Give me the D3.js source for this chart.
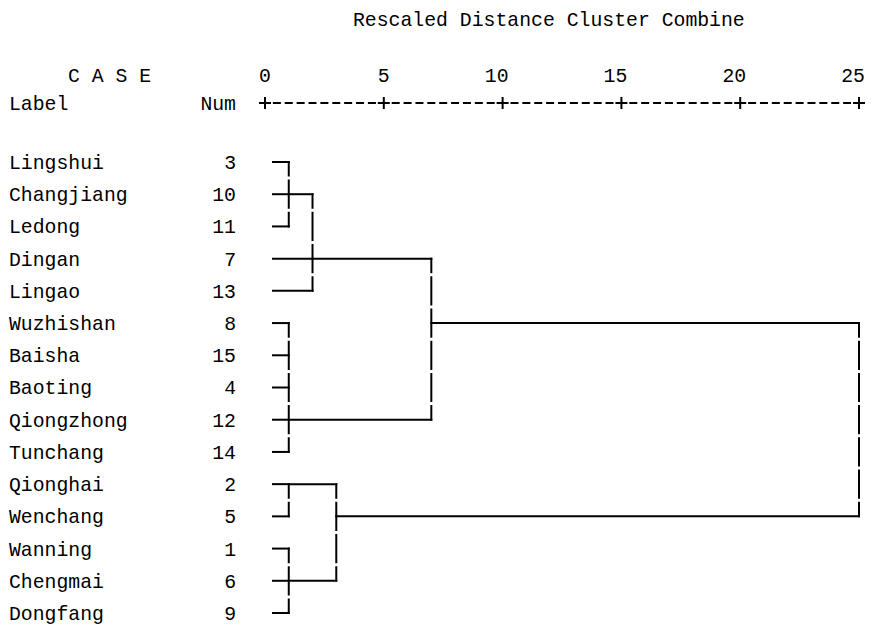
<!DOCTYPE html>
<html>
<head>
<meta charset="utf-8">
<script src="https://cdn.jsdelivr.net/npm/d3@7"></script>
<style>
  body { margin: 0; background: #fff; }
  text { font-family: "Liberation Mono", "DejaVu Sans Mono", monospace; font-size: 19.8px; fill: #000; }
</style>
</head>
<body>
<script>
var width = 872;
var height = 627;

// cases, top to bottom as in the dendrogram
var caseLabels = ["Lingshui", "Changjiang", "Ledong", "Dingan", "Lingao",
  "Wuzhishan", "Baisha", "Baoting", "Qiongzhong", "Tunchang",
  "Qionghai", "Wenchang", "Wanning", "Chengmai", "Dongfang"];
var caseNums = [3, 10, 11, 7, 13, 8, 15, 4, 12, 14, 2, 5, 1, 6, 9];

var ticks = [0, 5, 10, 15, 20, 25];

// merges: leaves are 0..14, merge k gets id 15 + k
var mergeChildren = [[0, 1, 2], [15, 3, 4], [5, 6, 7, 8, 9], [16, 17],
  [10, 11], [12, 13, 14], [19, 20], [18, 21]];
var mergeHeights = [1, 2, 1, 7, 1, 1, 3, 25];
var mergeRows = [1, 3, 8, 5, 10, 13, 11, 5];

var svg = d3.select("body")
  .append("svg")
  .attr("width", width)
  .attr("height", height)
  .style("background-color", "#fff");

var x = d3.scaleLinear().domain([0, 25]).range([265, 859]);
var y = d3.scalePoint().domain(d3.range(caseLabels.length)).range([162, 613]);
var step = y.step();
var cell = (x(5) - x(0)) / 10;
var leafX = x(0) + 7;

// texts
svg.append("text")
  .attr("x", 353).attr("y", 19).attr("dy", "0.35em")
  .text("Rescaled Distance Cluster Combine");

svg.append("text")
  .attr("x", 68).attr("y", 75).attr("dy", "0.35em")
  .attr("xml:space", "preserve")
  .text("C A S E");

svg.append("text")
  .attr("x", 9).attr("y", 103).attr("dy", "0.35em")
  .text("Label");
svg.append("text")
  .attr("x", 236).attr("y", 103).attr("dy", "0.35em")
  .attr("text-anchor", "end")
  .text("Num");

svg.append("g").selectAll("text")
  .data(ticks)
  .enter().append("text")
    .attr("x", function(d) { return x(d) + cell / 2; })
    .attr("y", 75).attr("dy", "0.35em")
    .attr("text-anchor", "end")
    .text(function(d) { return d; });

// axis: dashes between plus signs
var axis = svg.append("g").attr("stroke", "#000").attr("stroke-width", 2);
axis.append("line")
  .attr("x1", x(0) + cell / 2).attr("x2", x(25) - cell / 2)
  .attr("y1", 103).attr("y2", 103)
  .attr("stroke-dasharray", "0," + ((cell - 8) / 2) + ",8," + ((cell - 8) / 2));
axis.selectAll(".ph")
  .data(ticks)
  .enter().append("line")
    .attr("x1", function(d) { return x(d) - 6; })
    .attr("x2", function(d) { return x(d) + 6; })
    .attr("y1", 103).attr("y2", 103);
axis.selectAll(".pv")
  .data(ticks)
  .enter().append("line")
    .attr("x1", function(d) { return x(d); })
    .attr("x2", function(d) { return x(d); })
    .attr("y1", 97).attr("y2", 109);

// case rows
var rows = svg.append("g").selectAll("g")
  .data(caseLabels)
  .enter().append("g");
rows.append("text")
  .attr("x", 9)
  .attr("y", function(d, i) { return y(i); })
  .attr("dy", "0.35em")
  .text(function(d) { return d; });
rows.append("text")
  .attr("x", 236)
  .attr("y", function(d, i) { return y(i); })
  .attr("dy", "0.35em")
  .attr("text-anchor", "end")
  .text(function(d, i) { return caseNums[i]; });

// tree
function nodeRow(id) {
  return id < caseLabels.length ? id : mergeRows[id - caseLabels.length];
}
function nodeX(id) {
  return id < caseLabels.length ? leafX : x(mergeHeights[id - caseLabels.length]);
}

var tree = svg.append("g")
  .attr("stroke", "#000")
  .attr("stroke-width", 2)
  .attr("fill", "none");

mergeChildren.forEach(function(children, k) {
  var hx = x(mergeHeights[k]);
  children.forEach(function(c) {
    tree.append("line")
      .attr("x1", nodeX(c) - (c < caseLabels.length ? 0 : 1))
      .attr("x2", hx + 1)
      .attr("y1", y(nodeRow(c)))
      .attr("y2", y(nodeRow(c)));
  });
  var rs = children.map(nodeRow);
  var y0 = y(d3.min(rs)) - 1;
  var y1 = y(d3.max(rs)) + 1;
  tree.append("line")
    .attr("x1", hx).attr("x2", hx)
    .attr("y1", y0).attr("y2", y1)
    .attr("stroke-dasharray", (step - 3) + ",3")
    .attr("stroke-dashoffset", step / 2 - 2.5);
});
</script>
</body>
</html>
